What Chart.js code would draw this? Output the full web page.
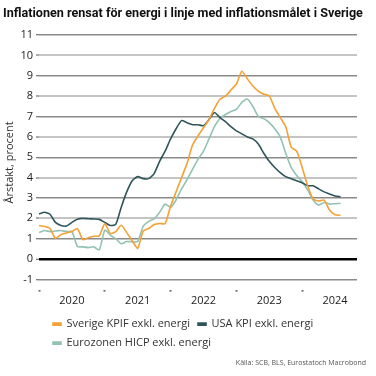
<!DOCTYPE html>
<html>
<head>
<meta charset="utf-8">
<script src="https://cdn.jsdelivr.net/npm/chart.js@4"></script>
<style>
  html, body { margin: 0; padding: 0; background: #fff; }
  #wrap { width: 376px; height: 376px; }
</style>
</head>
<body>
<div id="wrap"><canvas id="chart"></canvas></div>
<script>
// monthly, 2020-01 .. 2024-08
const months = [];
for (let y = 2020; y <= 2024; y++) {
    for (let m = 1; m <= 12; m++) {
        if (y === 2024 && m > 8) break;
        months.push(y + '-' + String(m).padStart(2, '0'));
    }
}
const years = ['2020', '2021', '2022', '2023', '2024'];

const sverige = [1.65, 1.6, 1.5, 1.02, 1.2, 1.28, 1.35, 1.5, 0.95, 1.05, 1.12, 1.14,
    1.74, 1.26, 1.35, 1.66, 1.3, 0.9, 0.53, 1.37, 1.5, 1.7, 1.75, 1.74,
    2.6, 3.3, 4.0, 4.7, 5.6, 6.05, 6.45, 6.85, 7.4, 7.85, 8.0, 8.3,
    8.6, 9.23, 8.85, 8.5, 8.25, 8.1, 8.02, 7.4, 6.95, 6.5, 5.5, 5.3,
    4.5, 3.6, 2.95, 2.85, 2.9, 2.4, 2.18, 2.15];
const usa = [2.22, 2.3, 2.2, 1.8, 1.65, 1.62, 1.8, 1.95, 2.0, 1.98, 1.97, 1.95,
    1.8, 1.65, 1.7, 2.55, 3.3, 3.85, 4.05, 3.95, 3.95, 4.2, 4.8, 5.3,
    5.9, 6.4, 6.8, 6.7, 6.6, 6.6, 6.55, 6.85, 7.2, 6.95, 6.75, 6.5,
    6.3, 6.15, 6.0, 5.9, 5.65, 5.2, 4.8, 4.5, 4.25, 4.05, 3.95, 3.85,
    3.75, 3.6, 3.6, 3.45, 3.3, 3.2, 3.1, 3.06];
const eurozonen = [1.3, 1.4, 1.35, 1.38, 1.4, 1.35, 1.35, 0.62, 0.6, 0.56, 0.6, 0.45,
    1.42, 1.18, 1.0, 0.75, 0.86, 0.85, 0.86, 1.6, 1.85, 1.97, 2.3, 2.7,
    2.55, 2.9, 3.45, 3.9, 4.4, 4.9, 5.3, 5.9, 6.5, 6.9, 7.1, 7.25,
    7.35, 7.7, 7.86, 7.5, 7.0, 6.9, 6.7, 6.4, 6.0, 5.2, 4.5, 4.1,
    3.8, 3.4, 2.9, 2.65, 2.78, 2.7, 2.72, 2.74];

const FONT = '"Open Sans", Roboto, sans-serif';

function toPoints(arr) {
    return arr.map((v, i) => ({ x: i, y: v }));
}

// nudge the legend a bit to the right, like the original
const legendShift = {
    id: 'legendShift',
    afterLayout(chart) {
        chart.legend.left += 6;
    }
};

const ctx = document.getElementById('chart').getContext('2d');
new Chart(ctx, {
    type: 'line',
    data: {
        datasets: [
            { label: 'Sverige KPIF exkl. energi', data: toPoints(sverige), borderColor: '#F5A135', backgroundColor: '#F5A135' },
            { label: 'USA KPI exkl. energi', data: toPoints(usa), borderColor: '#2F555A', backgroundColor: '#2F555A' },
            { label: 'Eurozonen HICP exkl. energi', data: toPoints(eurozonen), borderColor: '#93C2B5', backgroundColor: '#93C2B5' }
        ]
    },
    plugins: [legendShift],
    options: {
        responsive: true,
        maintainAspectRatio: false,
        animation: false,
        devicePixelRatio: 1,
        elements: {
            point: { radius: 0 },
            line: { borderWidth: 1.6, tension: 0.2, fill: false }
        },
        layout: { padding: { left: 3, right: 10, top: 2, bottom: 4 } },
        plugins: {
            tooltip: { enabled: false },
            title: {
                display: true,
                text: 'Inflationen rensat för energi i linje med inflationsmålet i Sverige',
                align: 'start',
                color: '#111',
                font: { family: '"Liberation Sans Narrow", Roboto, sans-serif', size: 12.6, weight: 'bold' },
                padding: { top: 4, bottom: 14 }
            },
            subtitle: {
                display: true,
                position: 'bottom',
                text: 'Källa: SCB, BLS, Eurostatoch Macrobond',
                align: 'end',
                color: '#555',
                font: { family: FONT, size: 7 },
                padding: { top: 0, bottom: 5 }
            },
            legend: {
                position: 'bottom',
                align: 'start',
                fullSize: false,
                labels: {
                    boxWidth: 8,
                    boxHeight: 2,
                    padding: 8,
                    color: '#333',
                    font: { family: FONT, size: 11 }
                }
            }
        },
        scales: {
            x: {
                type: 'linear',
                min: 0,
                max: 58,
                afterBuildTicks: scale => {
                    const t = [];
                    for (let v = 0; v <= 54; v += 6) t.push({ value: v });
                    scale.ticks = t;
                },
                border: { display: false },
                grid: {
                    drawOnChartArea: false,
                    drawTicks: true,
                    tickLength: 2,
                    tickWidth: 2,
                    tickColor: c => (c.tick && c.tick.value % 12 === 0) ? '#666' : 'rgba(0,0,0,0)'
                },
                ticks: {
                    autoSkip: false,
                    maxRotation: 0,
                    padding: 4,
                    color: '#222',
                    font: { family: FONT, size: 11, lineHeight: 1 },
                    callback: v => (v % 12 === 6) ? years[(v - 6) / 12] : ''
                }
            },
            y: {
                min: -1.5,
                max: 11,
                afterBuildTicks: scale => {
                    const t = [];
                    for (let v = -1; v <= 11; v++) t.push({ value: v });
                    scale.ticks = t;
                },
                afterFit: scale => { scale.width = 36; },
                border: { display: false },
                grid: {
                    color: c => c.tick.value === 0 ? '#000' : (Math.abs(c.tick.value) % 2 === 1 ? '#8a8a8a' : '#c4c4c4'),
                    lineWidth: c => c.tick.value === 0 ? 2.5 : (Math.abs(c.tick.value) % 2 === 1 ? 1.5 : 2),
                    tickLength: 3,
                    tickColor: '#555',
                    tickWidth: 1
                },
                ticks: {
                    padding: 3,
                    color: '#222',
                    font: { family: FONT, size: 11 }
                },
                title: {
                    display: true,
                    text: 'Årstakt, procent',
                    color: '#333',
                    font: { family: FONT, size: 11 },
                    padding: 0
                }
            },
            yR: {
                position: 'right',
                display: true,
                afterFit: scale => { scale.width = 9; },
                border: { display: false },
                grid: { display: false },
                ticks: { display: false }
            }
        }
    }
});
</script>
</body>
</html>
